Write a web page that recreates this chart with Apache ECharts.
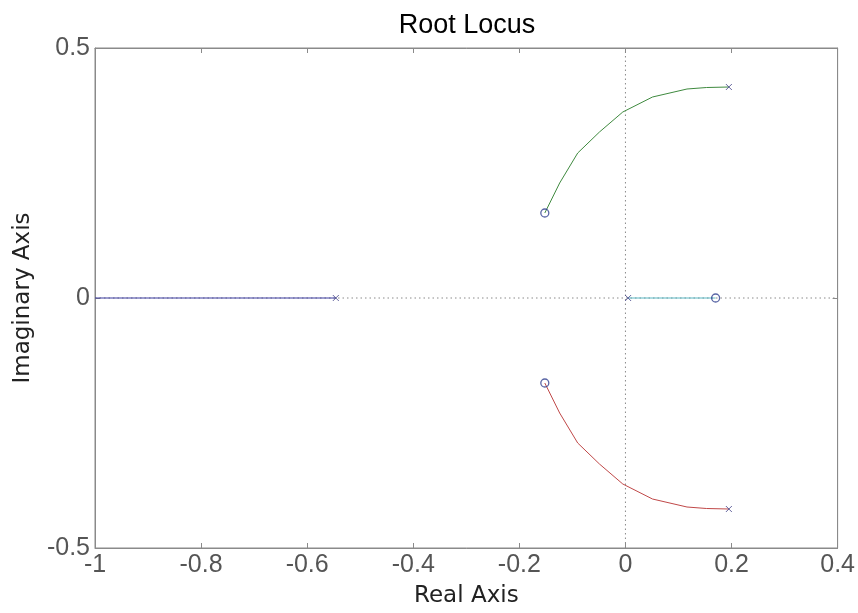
<!DOCTYPE html>
<html><head><meta charset="utf-8">
<script src="https://cdn.jsdelivr.net/npm/echarts@6/dist/echarts.min.js"></script>
<style>html,body{margin:0;padding:0;background:#fff}#c{width:858px;height:613px}</style>
</head><body><div id="c"></div>
<script>
// Root locus branches [real, imag]
const branchBlue = [[-1, 0], [-0.546, 0]];
const branchCyan = [[0.005, 0], [0.17, 0]];
const branchGreen = [[-0.152, 0.17], [-0.124, 0.23], [-0.09, 0.29], [-0.049, 0.332], [-0.005, 0.372], [0.051, 0.402], [0.116, 0.418], [0.153, 0.421], [0.195, 0.422]];
const branchRed = [[-0.152, -0.17], [-0.124, -0.23], [-0.09, -0.29], [-0.049, -0.332], [-0.005, -0.372], [0.051, -0.402], [0.116, -0.418], [0.153, -0.421], [0.195, -0.422]];
const poles = [[-0.546, 0], [0.005, 0], [0.195, 0.422], [0.195, -0.422]];
const zeros = [[0.17, 0], [-0.152, 0.17], [-0.152, -0.17]];
const hRef = [[-1, 0], [0.4, 0]];
const vRef = [[0, -0.5], [0, 0.5]];
const xTicks = [-1, -0.8, -0.6, -0.4, -0.2, 0, 0.2, 0.4];
const yTicks = [-0.5, 0, 0.5];

const chart = echarts.init(document.getElementById('c'));
const axColor = '#8a8a8a';
const lblColor = '#555';
const font = 'Liberation Sans, Arial, sans-serif';
const nameFont = 'DejaVu Sans, sans-serif';
const lineS = (name, data, color) => ({
  name, type: 'line', data, symbol: 'none', smooth: false, z: 3,
  lineStyle: { color, width: 1 }
});
chart.setOption({
  animation: false,
  backgroundColor: '#fff',
  title: { text: 'Root Locus', left: 462, top: 7, textAlign: 'center',
    textStyle: { fontFamily: font, fontSize: 27, fontWeight: 'normal', color: '#000' } },
  grid: { left: 95, right: 20, top: 48, bottom: 65, show: true, borderColor: axColor, borderWidth: 1 },
  xAxis: [{
    type: 'value', min: -1, max: 0.4, interval: 0.2,
    name: 'Real Axis', nameLocation: 'middle', nameGap: 37,
    nameTextStyle: { fontFamily: nameFont, fontSize: 23, color: '#222' },
    axisLine: { show: true, onZero: false, lineStyle: { color: axColor } },
    axisTick: { show: true, inside: true, length: 5, lineStyle: { color: axColor } },
    axisLabel: { fontFamily: font, fontSize: 25, color: lblColor, margin: 5,
      formatter: v => xTicks.includes(Math.round(v*10)/10) ? String(Math.round(v*10)/10) : '' },
    splitLine: { show: false }
  }, {
    type: 'value', min: -1, max: 0.4, interval: 0.2, position: 'top',
    axisLine: { show: true, onZero: false, lineStyle: { color: axColor } },
    axisTick: { show: true, inside: true, length: 5, lineStyle: { color: axColor } },
    axisLabel: { show: false }, splitLine: { show: false }
  }],
  yAxis: [{
    type: 'value', min: -0.5, max: 0.5, interval: 0.5,
    name: 'Imaginary Axis', nameLocation: 'middle', nameGap: 60, nameRotate: 90,
    nameTextStyle: { fontFamily: nameFont, fontSize: 23, color: '#222' },
    axisLine: { show: true, onZero: false, lineStyle: { color: axColor } },
    axisTick: { show: true, inside: true, length: 5, lineStyle: { color: axColor } },
    axisLabel: { fontFamily: font, fontSize: 25, color: lblColor, margin: 5,
      formatter: v => yTicks.includes(v) ? String(v) : '' },
    splitLine: { show: false }
  }, {
    type: 'value', min: -0.5, max: 0.5, interval: 0.5, position: 'right',
    axisLine: { show: true, onZero: false, lineStyle: { color: axColor } },
    axisTick: { show: true, inside: true, length: 5, lineStyle: { color: axColor } },
    axisLabel: { show: false }, splitLine: { show: false }
  }],
  series: [
    { type: 'line', data: hRef, symbol: 'none', z: 1, lineStyle: { color: '#8a8a8a', width: 1, type: [1.5, 3] } },
    { type: 'line', data: vRef, symbol: 'none', z: 1, lineStyle: { color: '#8a8a8a', width: 1, type: [1.5, 3] } },
    lineS('b1', branchBlue, '#3a3aa0'),
    lineS('b2', branchCyan, '#5ab8c4'),
    lineS('b3', branchGreen, '#3f8a3f'),
    lineS('b4', branchRed, '#c04848'),
    { type: 'scatter', data: poles, symbol: 'path://M0,0L10,10M10,0L0,10', symbolSize: 6, z: 5,
      itemStyle: { color: 'none', borderColor: '#44448a', borderWidth: 1 } },
    { type: 'scatter', data: zeros, symbol: 'circle', symbolSize: 8, z: 5,
      itemStyle: { color: 'rgba(255,255,255,0)', borderColor: '#2f3f8f', borderWidth: 1.3 } }
  ]
});
</script></body></html>
